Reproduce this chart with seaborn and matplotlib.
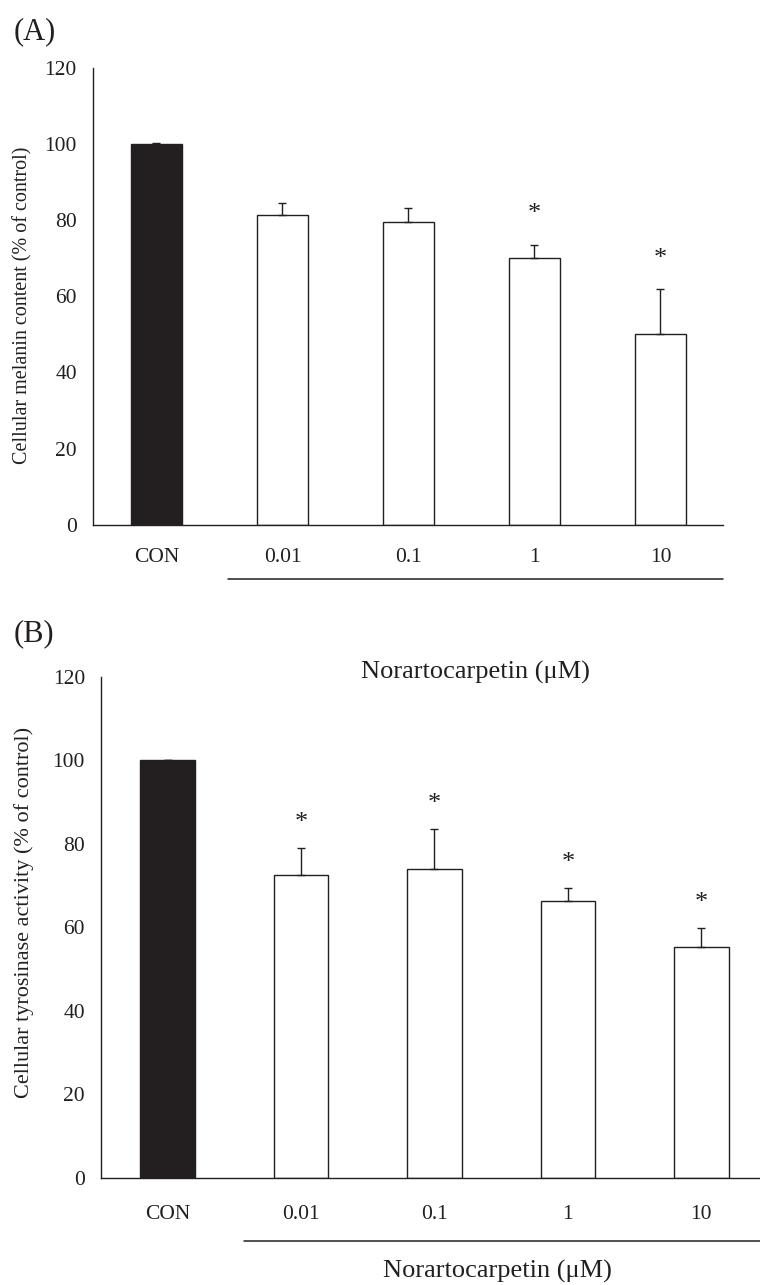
import numpy as np
import matplotlib
matplotlib.use("Agg")
import matplotlib.pyplot as plt
import seaborn as sns

# data
groups = ["CON", "0.01", "0.1", "1", "10"]
melanin = [100, 81.4, 79.6, 70.2, 50.1]
melanin_err = [0.2, 3.1, 3.7, 3.4, 11.7]
melanin_sig = [False, False, False, True, True]
tyrosinase = [100, 72.6, 74.0, 66.3, 55.2]
tyrosinase_err = [0.2, 6.5, 9.5, 3.2, 4.6]
tyrosinase_sig = [False, True, True, True, True]
bar_colors = ["#231f20", "white", "white", "white", "white"]
yticks = [0, 20, 40, 60, 80, 100, 120]
boundaries = [0.5, 1.5, 2.5, 3.5, 4.5]

sns.set_style("white")
plt.rcParams['font.family'] = ['Liberation Serif', 'DejaVu Serif']
ink = "#231f20"

fig = plt.figure(figsize=(7.6, 12.85), dpi=100)


def draw_panel(ax, vals, errs, sig, ylabel, star_gap, xpad, ypad, lab_xy, lab_size):
    sns.barplot(x=groups, y=vals, hue=groups, palette=bar_colors, width=0.41,
                edgecolor=ink, linewidth=1.0, legend=False, errorbar=None,
                saturation=1, ax=ax)
    # upper half error bars only
    ax.errorbar(range(len(groups)), vals, yerr=[np.zeros(len(vals)), errs],
                fmt='none', ecolor=ink, elinewidth=1.0, capsize=3.2, capthick=1.0,
                zorder=3)
    for i, s in enumerate(sig):
        if s:
            ax.text(i, vals[i] + errs[i] + star_gap, '*', ha='center', va='center',
                    fontsize=19, color=ink)
    ax.set_xlim(-0.5, 4.5)
    ax.set_ylim(0, 120)
    ax.set_yticks(yticks)
    ax.set_xticks(range(len(groups)))
    ax.set_xticklabels(groups)
    ax.set_xticks(boundaries, minor=True)
    ax.tick_params(axis='x', which='major', length=0, pad=xpad, labelsize=15.5, colors=ink)
    ax.tick_params(axis='x', which='minor', direction='in', length=4.5, width=1, color=ink)
    ax.tick_params(axis='y', direction='in', length=4.5, width=1, pad=ypad,
                   labelsize=15.5, colors=ink)
    sns.despine(ax=ax)
    for sp in ['left', 'bottom']:
        ax.spines[sp].set_linewidth(1.0)
        ax.spines[sp].set_color(ink)
    ax.set_xlabel('')
    ax.set_ylabel(ylabel, fontsize=lab_size, color=ink, va='center', ha='center')
    ax.yaxis.set_label_coords(*lab_xy)


# panel A
axA = fig.add_axes([0.1230, 0.5917, 0.8289, 0.3554])
draw_panel(axA, melanin, melanin_err, melanin_sig,
           'Cellular melanin content (% of control)', 8.0, 17, 12, (-0.112, 0.48), 14.5)
axA.plot([0.57, 4.5], [-0.119, -0.119], transform=axA.get_xaxis_transform(),
         clip_on=False, color=ink, lw=1.1)

# panel B
axB = fig.add_axes([0.1329, 0.0833, 0.8776, 0.3899])
draw_panel(axB, tyrosinase, tyrosinase_err, tyrosinase_sig,
           'Cellular tyrosinase activity (% of control)', 6.0, 19.5, 11.5, (-0.1154, 0.529), 16)
axB.plot([0.572, 4.5], [-0.125, -0.125], transform=axB.get_xaxis_transform(),
         clip_on=False, color=ink, lw=1.1)

fig.text(0.046, 0.975, '(A)', ha='center', va='center', fontsize=22, color=ink)
fig.text(0.045, 0.5066, '(B)', ha='center', va='center', fontsize=22, color=ink)
fig.text(0.626, 0.477, 'Norartocarpetin (μM)', ha='center', va='center', fontsize=19, color=ink)
fig.text(0.654, 0.0109, 'Norartocarpetin (μM)', ha='center', va='center', fontsize=19, color=ink)

fig.savefig('out.png', dpi=100)
